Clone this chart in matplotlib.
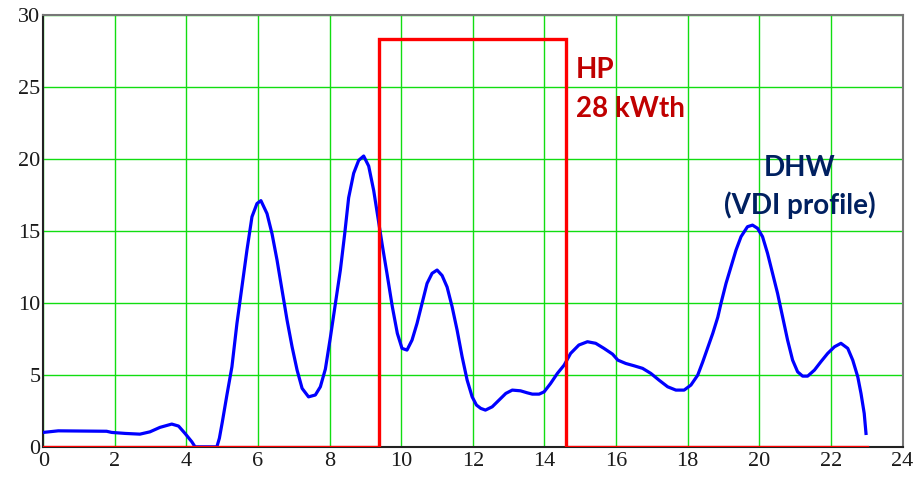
import numpy as np
import matplotlib
matplotlib.use("Agg")
import matplotlib.pyplot as plt

# DHW demand over the day (VDI profile)
hours = [0.0, 0.42, 1.77, 1.91, 2.29, 2.7, 2.98, 3.26, 3.59, 3.78, 3.96, 4.15, 4.24,
         4.85, 4.92, 5.0, 5.13, 5.27, 5.41, 5.55, 5.69, 5.83, 5.97, 6.08, 6.25,
         6.39, 6.53, 6.67, 6.81, 6.95, 7.09, 7.23, 7.41, 7.6, 7.74, 7.88, 8.02,
         8.16, 8.3, 8.42, 8.53, 8.67, 8.81, 8.95, 9.09, 9.23, 9.33, 9.47, 9.6,
         9.75, 9.89, 10.02, 10.16, 10.3, 10.44, 10.58, 10.72, 10.86, 11.0, 11.14,
         11.28, 11.42, 11.56, 11.7, 11.84, 11.98, 12.1, 12.22, 12.35, 12.54, 12.73,
         12.92, 13.1, 13.33, 13.52, 13.66, 13.85, 13.99, 14.17, 14.36, 14.55, 14.73,
         14.96, 15.2, 15.43, 15.66, 15.9, 16.05, 16.27, 16.5, 16.74, 16.97, 17.2,
         17.44, 17.67, 17.9, 18.09, 18.28, 18.42, 18.56, 18.7, 18.84, 18.93, 19.07,
         19.21, 19.35, 19.49, 19.67, 19.81, 19.95, 20.09, 20.23, 20.37, 20.51, 20.65,
         20.79, 20.93, 21.07, 21.21, 21.35, 21.54, 21.72, 21.91, 22.1, 22.28, 22.47,
         22.61, 22.75, 22.84, 22.93, 22.98]
dhw = [1.0, 1.11, 1.08, 1.0, 0.93, 0.88, 1.04, 1.35, 1.58, 1.44, 0.93, 0.35, 0.0,
       0.0, 0.6, 1.7, 3.6, 5.56, 8.57, 11.1, 13.67, 15.98, 16.9, 17.1, 16.2,
       14.8, 12.97, 10.9, 8.8, 6.95, 5.33, 4.06, 3.47, 3.6, 4.17, 5.4, 7.6,
       9.97, 12.3, 14.8, 17.3, 19.0, 19.9, 20.2, 19.5, 17.8, 16.2, 14.0, 12.05,
       9.73, 7.88, 6.84, 6.72, 7.41, 8.57, 9.97, 11.35, 12.05, 12.28, 11.9,
       11.1, 9.73, 8.1, 6.25, 4.63, 3.47, 2.9, 2.67, 2.55, 2.78, 3.25,
       3.71, 3.94, 3.89, 3.75, 3.66, 3.66, 3.82, 4.4, 5.1, 5.68, 6.49,
       7.07, 7.3, 7.19, 6.84, 6.44, 6.02, 5.79, 5.63, 5.45, 5.1, 4.63,
       4.17, 3.94, 3.94, 4.29, 4.98, 5.9, 6.9, 7.88, 9.0, 9.97, 11.35,
       12.5, 13.67, 14.6, 15.29, 15.4, 15.18, 14.6, 13.44, 12.05, 10.66, 9.03,
       7.41, 6.02, 5.21, 4.91, 4.91, 5.33, 5.91, 6.49, 6.95, 7.19, 6.84,
       6.02, 4.86, 3.71, 2.32, 0.93]

# heat pump operation (on/off step)
hp_hours = [0.0, 9.38, 9.38, 14.6, 14.6, 23.0]
hp_power = [0.0, 0.0, 28.3, 28.3, 0.0, 0.0]

x_ticks = list(range(0, 25, 2))
y_ticks = list(range(0, 31, 5))

fig = plt.figure(figsize=(9.2, 4.82), dpi=100)
ax = fig.add_axes([0.047, 0.073, 0.934, 0.896])

ax.plot(hours, dhw, color="#0000ff", lw=2.3, zorder=3, solid_joinstyle="round")
ax.plot(hp_hours, hp_power, color="#ff0000", lw=2.4, zorder=4, solid_joinstyle="miter")

ax.set_xlim(0, 24)
ax.set_ylim(0, 30)
ax.set_xticks(x_ticks)
ax.set_yticks(y_ticks)
ax.grid(True, color="#11dd11", lw=1.0)
ax.tick_params(axis="x", length=0, pad=4, labelsize=16)
ax.tick_params(axis="y", length=0, pad=2, labelsize=16)
for lab in ax.get_xticklabels() + ax.get_yticklabels():
    lab.set_fontfamily("Liberation Serif")
    lab.set_color("#1a1a1a")
for s in ax.spines.values():
    s.set_color("#777777")
    s.set_linewidth(1.5)
ax.spines["left"].set_color("#222222")
ax.spines["bottom"].set_color("#222222")

# annotations
ax.text(14.87, 25.6, "HP", color="#c00000", fontsize=20, fontweight="bold",
        family="Lato", va="baseline", ha="left")
ax.text(14.87, 22.88, "28 kWth", color="#c00000", fontsize=20, fontweight="bold",
        family="Lato", va="baseline", ha="left")
ax.text(21.12, 18.8, "DHW", color="#002060", fontsize=20, fontweight="bold",
        family="Lato", va="baseline", ha="center")
ax.text(21.12, 16.2, "(VDI profile)", color="#002060", fontsize=20, fontweight="bold",
        family="Lato", va="baseline", ha="center")

fig.savefig("out.png", dpi=100)
